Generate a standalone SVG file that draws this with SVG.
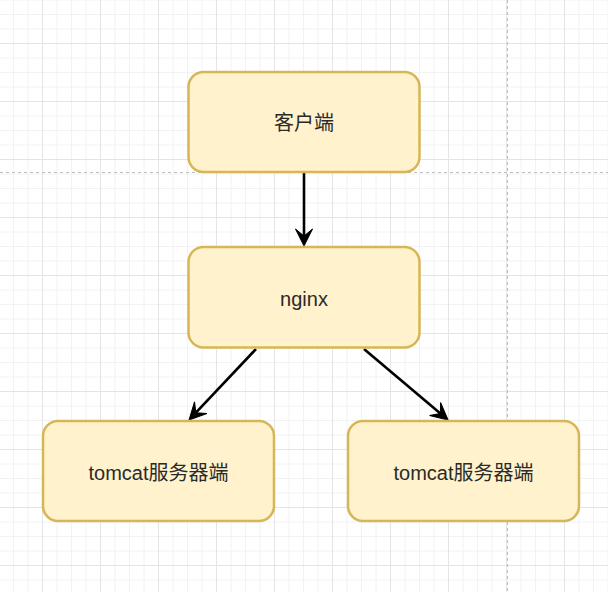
<svg xmlns="http://www.w3.org/2000/svg" width="608" height="592" viewBox="0 0 608 592">
  <style>
    .node rect { fill: #fff2cc; stroke: #d6b656; stroke-width: 2.5; }
    .node text { font-family: "Liberation Sans", "Noto Sans CJK SC", sans-serif; font-size: 20px; fill: #2a2a2a; text-anchor: middle; }
    .edge { fill: none; stroke: #000; stroke-width: 2.6; marker-end: url(#arrow); }
    .page { fill: none; stroke: #bdbdbd; stroke-width: 1; stroke-dasharray: 3 3; }
  </style>
  <defs>
    <pattern id="grid" patternUnits="userSpaceOnUse" x="42" y="43" width="58" height="58">
      <path d="M15,0V58M29.5,0V58M44,0V58M0,15H58M0,29.5H58M0,44H58" stroke="#f2f2f2" stroke-width="1" fill="none"/>
      <path d="M0.5,0V58M0,0.5H58" stroke="#e4e4e4" stroke-width="1" fill="none"/>
    </pattern>
    <marker id="arrow" markerUnits="userSpaceOnUse" viewBox="-8 -10 20 20" refX="0" refY="0" markerWidth="20" markerHeight="20" orient="auto">
      <path d="M10,0 L-7,-8.5 L0,0 L-7,8.5 Z" fill="#000" stroke="#000" stroke-width="1" stroke-linejoin="miter"/>
    </marker>
  </defs>
  <rect width="608" height="592" fill="#ffffff"/>
  <rect width="608" height="592" fill="url(#grid)"/>
  <path class="page" d="M0,172.5H608"/>
  <path class="page" d="M507.5,0V592"/>

  <g id="connectors">
    <path class="edge" d="M304,173 L304,236"/>
    <path class="edge" d="M256,349 L195.9,412.7"/>
    <path class="edge" d="M364,349 L440.4,413.5"/>
  </g>

  <g id="client" class="node">
    <rect x="188.5" y="72" width="231" height="100" rx="15" ry="15"/>
    <text x="304" y="130">客户端</text>
  </g>
  <g id="nginx" class="node">
    <rect x="188.5" y="247" width="231" height="100.5" rx="15" ry="15"/>
    <text x="304" y="306">nginx</text>
  </g>
  <g id="tomcat1" class="node">
    <rect x="43" y="421" width="231" height="100" rx="15" ry="15"/>
    <text x="158.5" y="480">tomcat服务器端</text>
  </g>
  <g id="tomcat2" class="node">
    <rect x="348" y="421" width="231" height="100" rx="15" ry="15"/>
    <text x="463.5" y="480">tomcat服务器端</text>
  </g>
</svg>
